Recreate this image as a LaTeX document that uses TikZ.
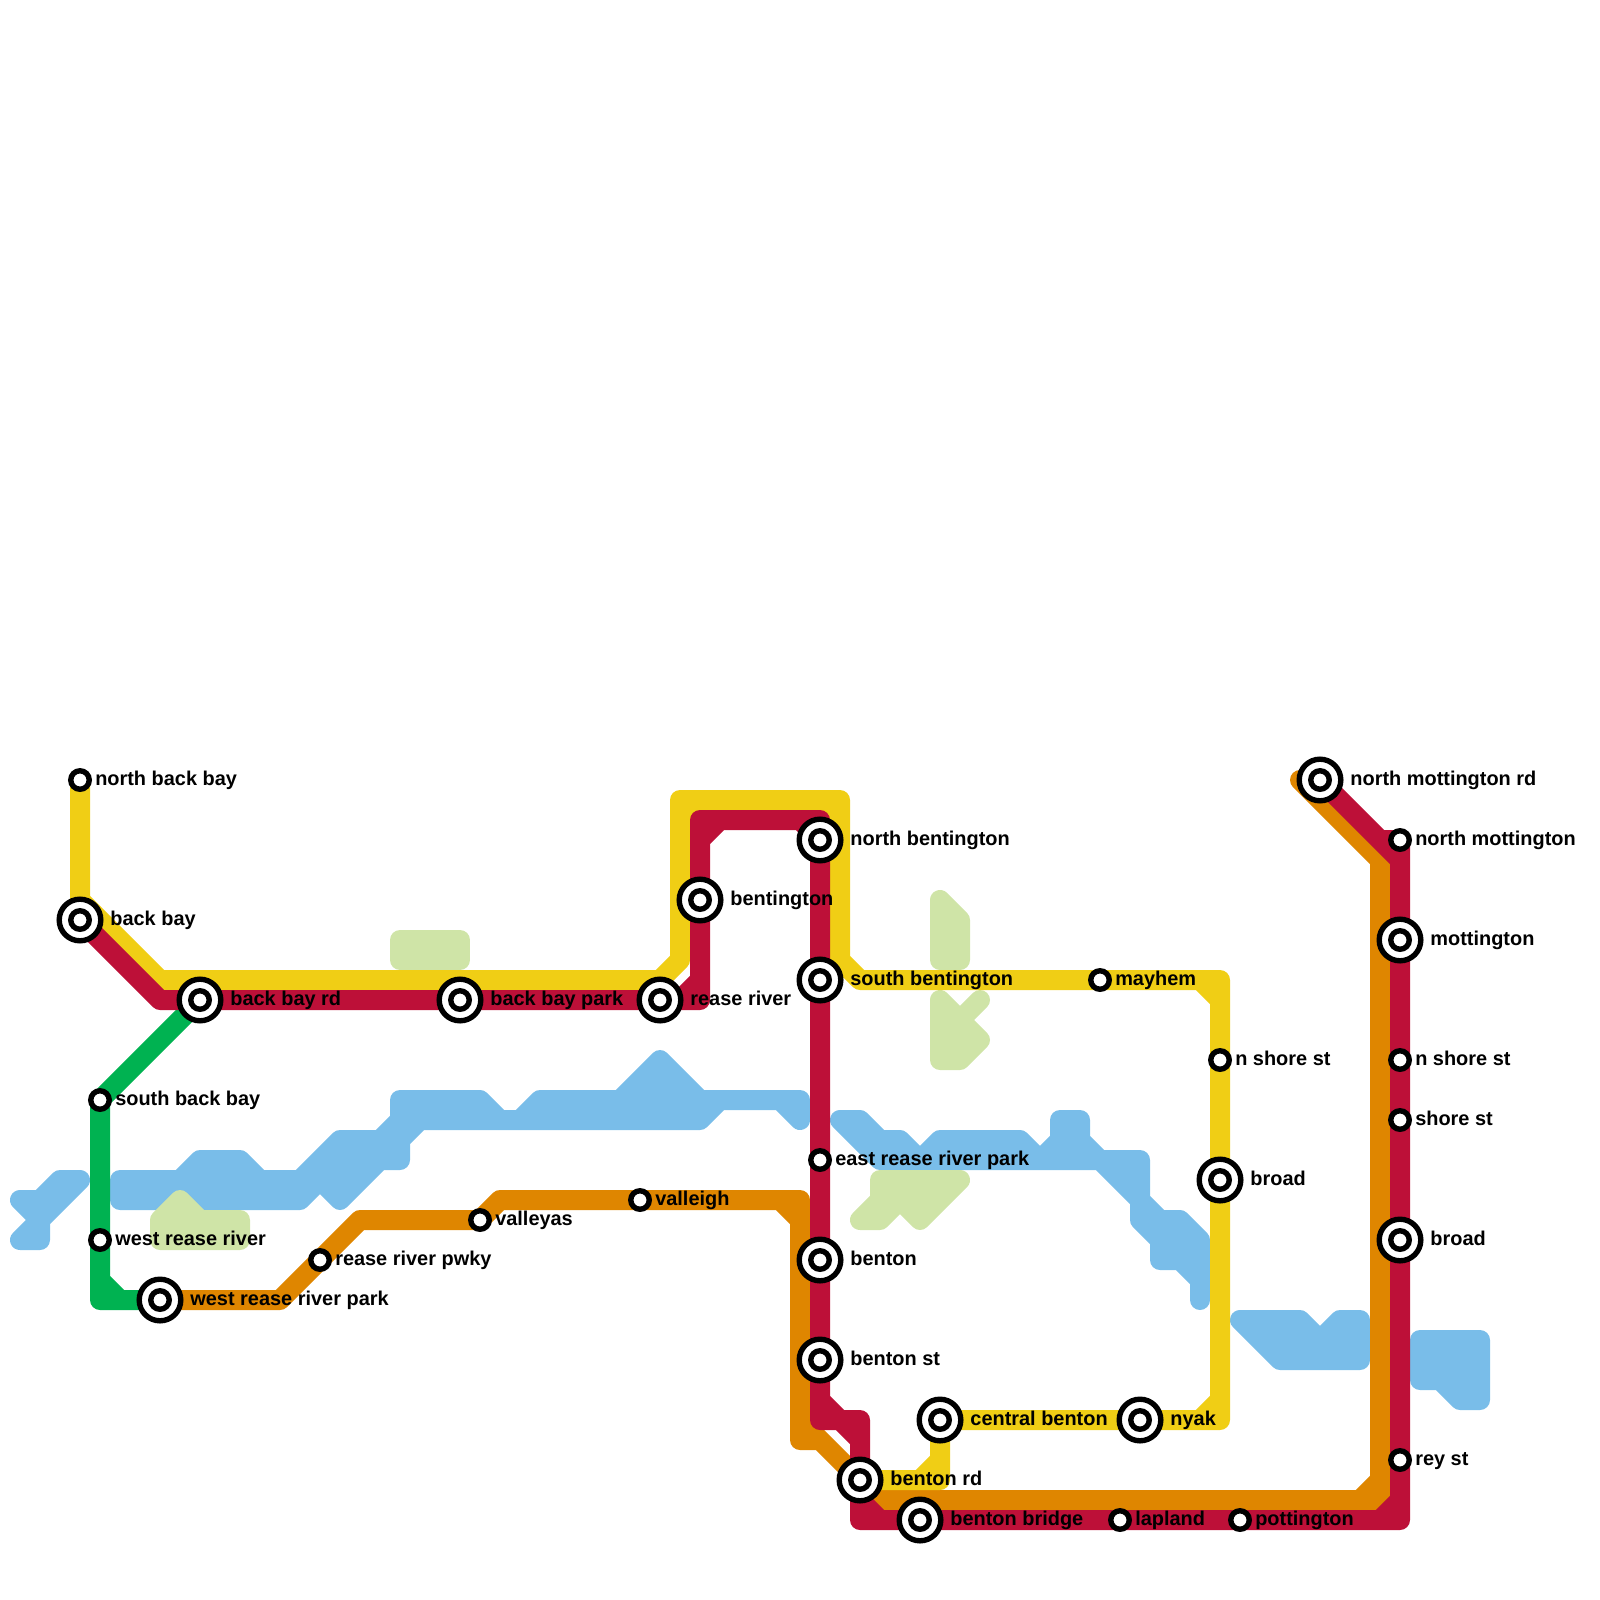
\documentclass[tikz,border=0pt]{standalone}
\usepackage{fontspec}
\setmainfont{Liberation Sans}
\usepackage{xcolor}
\usetikzlibrary{positioning, backgrounds}

\definecolor{linered}{HTML}{BD1038}
\definecolor{lineorange}{HTML}{DF8600}
\definecolor{lineyellow}{HTML}{F0CE15}
\definecolor{linegreen}{HTML}{00B251}
\definecolor{waterblue}{HTML}{79BDE9}
\definecolor{parkgreen}{HTML}{CFE4A7}

% inner corner of a line: the two neighbours of the bend are joined too
\newcommand{\corner}[3]{-- #1 -- #2 -- #3 -- #1 -- #3}

\begin{document}
\begin{tikzpicture}[
    x=2mm, y=-2mm,
    node distance=0.26mm,
    stop/.style={circle, draw=black, fill=white, line width=0.54mm, minimum size=1.85mm, inner sep=0pt},
    interchange/.style={circle, draw=black, fill=white, line width=0.54mm, minimum size=4.16mm, inner sep=0pt, outer sep=0.63mm, label={[stop]center:{}}},
    txt/.style={font=\fontsize{5.67}{7}\selectfont\bfseries, inner sep=0pt, text height=4.7pt, text depth=1.74pt},
    metro/.style={line width=2mm, line cap=round, line join=round},
    water/.style={metro, draw=waterblue, fill=waterblue},
    park/.style={metro, draw=parkgreen, fill=parkgreen}
]
\useasboundingbox (0,0) rectangle (80,80);

% West side
\node [stop] (northbackbay) at (4,39) {};
\node [interchange] (backbay) at (4,46) {};
\node [interchange] (backbayrd) at (10,50) {};
\node [interchange] (backbaypark) at (23,50) {};
\node [interchange] (reaseriver) at (33,50) {};
\node [stop] (southbackbay) at (5,55) {};
\node [stop] (westrease) at (5,62) {};
\node [interchange] (westreasepark) at (8,65) {};
\node [stop] (reasepwky) at (16,63) {};
\node [stop] (valleyas) at (24,61) {};
\node [stop] (valleigh) at (32,60) {};

% Middle
\node [interchange] (bentington) at (35,45) {};
\node [interchange] (northbent) at (41,42) {};
\node [interchange] (southbent) at (41,49) {};
\node [stop] (eastrease) at (41,58) {};
\node [interchange] (benton) at (41,63) {};
\node [interchange] (bentonst) at (41,68) {};
\node [interchange] (centralbenton) at (47,71) {};
\node [interchange] (bentonrd) at (43,74) {};
\node [interchange] (bentonbridge) at (46,76) {};
\node [stop] (lapland) at (56,76) {};
\node [stop] (mayhem) at (55,49) {};

% East side
\node [interchange] (nyak) at (57,71) {};
\node [stop] (pottington) at (62,76) {};
\node [stop] (nshoreA) at (61,53) {};
\node [interchange] (broadA) at (61,59) {};
\node [interchange] (northmottrd) at (66,39) {};
\node [stop] (northmott) at (70,42) {};
\node [interchange] (mottington) at (70,47) {};
\node [stop] (nshoreB) at (70,53) {};
\node [stop] (shorest) at (70,56) {};
\node [interchange] (broadB) at (70,62) {};
\node [stop] (reyst) at (70,73) {};
\coordinate (orangeend) at (65,39);

% Labels
\node [txt, right=of northbackbay] {north back bay};
\node [txt, right=of backbay] {back bay};
\node [txt, right=of backbayrd] {back bay rd};
\node [txt, right=of backbaypark] {back bay park};
\node [txt, right=of reaseriver] {rease river};
\node [txt, right=of southbackbay] {south back bay};
\node [txt, right=of westrease] {west rease river};
\node [txt, right=of westreasepark] {west rease river park};
\node [txt, right=of reasepwky] {rease river pwky};
\node [txt, right=of valleyas] {valleyas};
\node [txt, right=of valleigh] {valleigh};
\node [txt, right=of bentington] {bentington};
\node [txt, right=of northbent] {north bentington};
\node [txt, right=of southbent] {south bentington};
\node [txt, right=of eastrease] {east rease river park};
\node [txt, right=of benton] {benton};
\node [txt, right=of bentonst] {benton st};
\node [txt, right=of centralbenton] {central benton};
\node [txt, right=of bentonrd] {benton rd};
\node [txt, right=of bentonbridge] {benton bridge};
\node [txt, right=of lapland] {lapland};
\node [txt, right=of mayhem] {mayhem};
\node [txt, right=of nyak] {nyak};
\node [txt, right=of pottington] {pottington};
\node [txt, right=of nshoreA] {n shore st};
\node [txt, right=of broadA] {broad};
\node [txt, right=of northmottrd] {north mottington rd};
\node [txt, right=of northmott] {north mottington};
\node [txt, right=of mottington] {mottington};
\node [txt, right=of nshoreB] {n shore st};
\node [txt, right=of shorest] {shore st};
\node [txt, right=of broadB] {broad};
\node [txt, right=of reyst] {rey st};

\begin{scope}[on background layer]
% Water
\filldraw [water] (1,60) -- (2,60) -- (3,59) -- (4,59) -- (2,61) -- (2,62) -- (1,62) -- (2,61) -- cycle;
\filldraw [water] (6,59) -- (9,59) -- (10,58) -- (12,58) -- (13,59) -- (15,59) -- (17,57) -- (19,57) -- (20,56) -- (20,55) -- (24,55) -- (25,56) -- (26,56) -- (27,55) -- (31,55) -- (33,53) -- (35,55) -- (40,55) -- (40,56) -- (39,55) -- (36,55) -- (35,56) -- (21,56) -- (20,57) -- (20,58) -- (19,58) -- (17,60) -- (16,59) -- (15,60) -- (6,60) -- cycle;
\filldraw [water] (42,56) -- (43,56) -- (44,57) -- (45,57) -- (46,58) -- (47,57) -- (51,57) -- (52,58) -- (53,57) -- (53,56) -- (54,56) -- (54,57) -- (55,58) -- (57,58) -- (57,60) -- (58,61) -- (59,61) -- (60,62) -- (60,65) -- (60,64) -- (59,63) -- (58,63) -- (58,62) -- (57,61) -- (57,60) -- (55,58) -- (44,58) -- cycle;
\filldraw [water] (62,66) -- (65,66) -- (66,67) -- (67,66) -- (68,66) -- (68,68) -- (64,68) -- cycle;
\filldraw [water] (71,67) -- (74,67) -- (74,70) -- (73,70) -- (72,69) -- (71,69) -- cycle;

% Parks
\filldraw [park] (20,47) -- (23,47) -- (23,48) -- (20,48) -- cycle;
\filldraw [park] (8,61) -- (9,60) -- (10,61) -- (12,61) -- (12,62) -- (8,62) -- cycle;
\filldraw [park] (47,45) -- (48,46) -- (48,48) -- (47,48) -- cycle;
\filldraw [park] (47,50) -- (48,51) -- (49,50) -- (48,51) -- (49,52) -- (48,53) -- (47,53) -- cycle;
\filldraw [park] (44,59) -- (48,59) -- (46,61) -- (45,60) -- (44,61) -- (43,61) -- (44,60) -- cycle;

% Lines
\draw [metro, linegreen] (backbayrd.center) -- (southbackbay.center) -- (westrease.center) \corner{(5,64)}{(5,65)}{(6,65)} -- (westreasepark.center);
\draw [metro, lineorange] (westreasepark.center) -- (14,65) -- (reasepwky.center) -- (18,61) -- (valleyas.center) -- (25,60) -- (valleigh.center) \corner{(39,60)}{(40,60)}{(40,61)} \corner{(40,71)}{(40,72)}{(41,72)} -- (bentonrd.center) -- (44,75) \corner{(68,75)}{(69,75)}{(69,74)} -- (69,43) -- (orangeend);
\draw [metro, lineyellow] (northbackbay.center) -- (4,45) -- (5,46) -- (8,49) -- (33,49) -- (34,48) \corner{(34,41)}{(34,40)}{(35,40)} \corner{(41,40)}{(42,40)}{(42,41)} -- (42,48) -- (43,49) -- (mayhem.center) \corner{(60,49)}{(61,49)}{(61,50)} -- (nshoreA.center) -- (broadA.center) \corner{(61,70)}{(61,71)}{(60,71)} -- (nyak.center) -- (centralbenton.center) \corner{(47,73)}{(47,74)}{(46,74)} -- (bentonrd.center);
\draw [metro, linered] (backbay.center) -- (8,50) -- (backbayrd.center) -- (backbaypark.center) -- (reaseriver.center) \corner{(34,50)}{(35,50)}{(35,49)} -- (bentington.center) \corner{(35,42)}{(35,41)}{(36,41)} \corner{(40,41)}{(41,41)}{(41,42)} -- (northbent.center) -- (southbent.center) -- (eastrease.center) -- (benton.center) -- (bentonst.center) \corner{(41,70)}{(41,71)}{(42,71)} \corner{(42,71)}{(43,71)}{(43,72)} -- (bentonrd.center) \corner{(43,75)}{(43,76)}{(44,76)} -- (bentonbridge.center) -- (lapland.center) -- (pottington.center) \corner{(69,76)}{(70,76)}{(70,75)} -- (reyst.center) -- (broadB.center) -- (shorest.center) -- (nshoreB.center) -- (mottington.center) \corner{(70,43)}{(70,42)}{(69,42)} -- (northmottrd.center);
\end{scope}
\end{tikzpicture}
\end{document}
